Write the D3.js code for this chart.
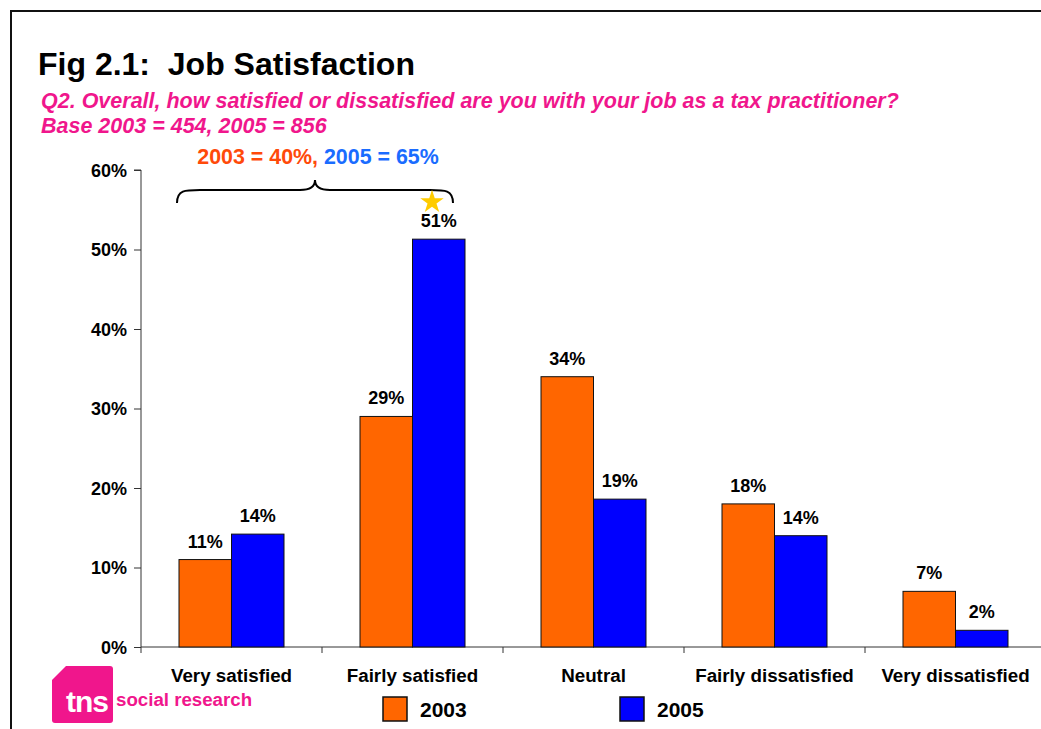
<!DOCTYPE html>
<html><head><meta charset="utf-8">
<script src="https://cdn.jsdelivr.net/npm/d3@7"></script>
<style>body{margin:0;background:#fff}svg{display:block}text{font-family:Arial,"Liberation Sans",sans-serif}</style>
</head><body>
<svg id="c" width="1041" height="729"></svg>
<script>
const categories = ["Very satisfied","Fairly satisfied","Neutral","Fairly dissatisfied","Very dissatisfied"];
const series = ["2003","2005"];
const values2003 = [11, 29, 34, 18, 7];
const values2005 = [14.2, 51.3, 18.6, 14, 2.1];
const yTicks = [0, 10, 20, 30, 40, 50, 60];
const colors = ["#FF6600", "#0000FF"];

const svg = d3.select("#c");
// frame
svg.append("path").attr("d","M11,729 V11 H1041").attr("fill","none").attr("stroke","#111").attr("stroke-width",2);

svg.append("text").attr("x",38).attr("y",75).attr("font-size",32).attr("font-weight","bold").attr("fill","#000")
  .attr("xml:space","preserve").text("Fig 2.1:  Job Satisfaction");
svg.append("text").attr("x",41).attr("y",108).attr("font-size",21.5).attr("font-weight","bold").attr("font-style","italic").attr("fill","#F0168C")
  .text("Q2. Overall, how satisfied or dissatisfied are you with your job as a tax practitioner?");
svg.append("text").attr("x",41).attr("y",133).attr("font-size",21.5).attr("font-weight","bold").attr("font-style","italic").attr("fill","#F0168C")
  .text("Base 2003 = 454, 2005 = 856");

const x0 = 141, x1 = 1046, yTop = 170, yBot = 647;
const x = d3.scaleBand().domain(categories).range([x0, x1]);
const xs = d3.scaleBand().domain(series).range([0, 105]);
const y = d3.scaleLinear().domain([0, 60]).range([yBot, yTop]);

// y axis
const ya = svg.append("g").attr("transform",`translate(${x0},0)`)
  .call(d3.axisLeft(y).tickValues(yTicks).tickFormat(d=>d+"%").tickSize(7).tickPadding(7));
ya.select(".domain").attr("stroke","#333").attr("d",`M-7,${y(60)}H0V${y(0)}`);
ya.selectAll(".tick line").attr("stroke","#333");
ya.selectAll("text").attr("font-size",18).attr("font-weight","bold").attr("fill","#000").attr("dy","0.36em").attr("font-family","Arial,'Liberation Sans',sans-serif");

// x axis
const xa = svg.append("g").attr("transform",`translate(0,${yBot})`);
xa.append("line").attr("x1",x0).attr("x2",1041).attr("y1",0).attr("y2",0).attr("stroke","#333");
xa.selectAll(".tk").data(categories.map(c=>x(c)).concat([x1])).join("line")
  .attr("x1",d=>d).attr("x2",d=>d).attr("y1",0).attr("y2",6).attr("stroke","#333");
xa.selectAll(".cl").data(categories).join("text")
  .attr("x",d=>x(d)+x.bandwidth()/2).attr("y",35).attr("text-anchor","middle")
  .attr("font-size",18.8).attr("font-weight","bold").attr("fill","#000").text(d=>d);

// bars
const data = categories.map((c,i)=>({c, v:[values2003[i], values2005[i]]}));
const groups = svg.selectAll(".g").data(data).join("g")
  .attr("transform",d=>`translate(${x(d.c)+x.bandwidth()/2-52.5},0)`);
groups.selectAll("rect").data(d=>d.v.map((v,j)=>({v,s:series[j],j}))).join("rect")
  .attr("x",d=>xs(d.s)).attr("width",xs.bandwidth()).attr("y",d=>y(d.v)).attr("height",d=>yBot-y(d.v))
  .attr("fill",d=>colors[d.j]).attr("stroke","#111").attr("stroke-width",1);
groups.selectAll("text").data(d=>d.v.map((v,j)=>({v,s:series[j],j}))).join("text")
  .attr("x",d=>xs(d.s)+xs.bandwidth()/2).attr("y",d=>y(d.v)-12).attr("text-anchor","middle")
  .attr("font-size",18).attr("font-weight","bold").attr("fill","#000").text(d=>Math.round(d.v)+"%");

// brace annotation
const bt = svg.append("text").attr("x",318).attr("y",164).attr("text-anchor","middle").attr("font-size",21.4).attr("font-weight","bold");
bt.append("tspan").attr("fill","#FF4A0A").text("2003 = 40%, ");
bt.append("tspan").attr("fill","#1A6CFF").text("2005 = 65%");
svg.append("path")
  .attr("d","M177,203 C177,190 185,190 200,190 L300,190 C310,190 315,186 315,180 C315,186 320,190 330,190 L430,190 C445,190 453,190 453,203")
  .attr("fill","none").attr("stroke","#000").attr("stroke-width",2);
// star
const star = d3.symbol().type(d3.symbolStar).size(170);
svg.append("path").attr("d",star()).attr("transform","translate(432,202)").attr("fill","#FFCC00");

// logo
svg.append("path").attr("d","M66,666 H110 Q113,666 113,669 V720 Q113,723 110,723 H55 Q52,723 52,720 V680 Z").attr("fill","#F0168C");
svg.append("text").attr("x",66).attr("y",712).attr("font-size",30).attr("font-weight","bold").attr("fill","#fff").attr("font-family","Arial,sans-serif").attr("letter-spacing",-1).text("tns");
svg.append("text").attr("x",116).attr("y",706).attr("font-size",18.7).attr("font-weight","bold").attr("fill","#F0168C").text("social research");

// legend
const lg = svg.selectAll(".lg").data(series).join("g").attr("transform",(d,i)=>`translate(${[383,620][i]},697)`);
lg.append("rect").attr("width",24).attr("height",24).attr("fill",(d,i)=>colors[i]).attr("stroke","#111").attr("stroke-width",1.5);
lg.append("text").attr("x",37).attr("y",20).attr("font-size",21).attr("font-weight","bold").attr("fill","#000").text(d=>d);
</script>
</body></html>
